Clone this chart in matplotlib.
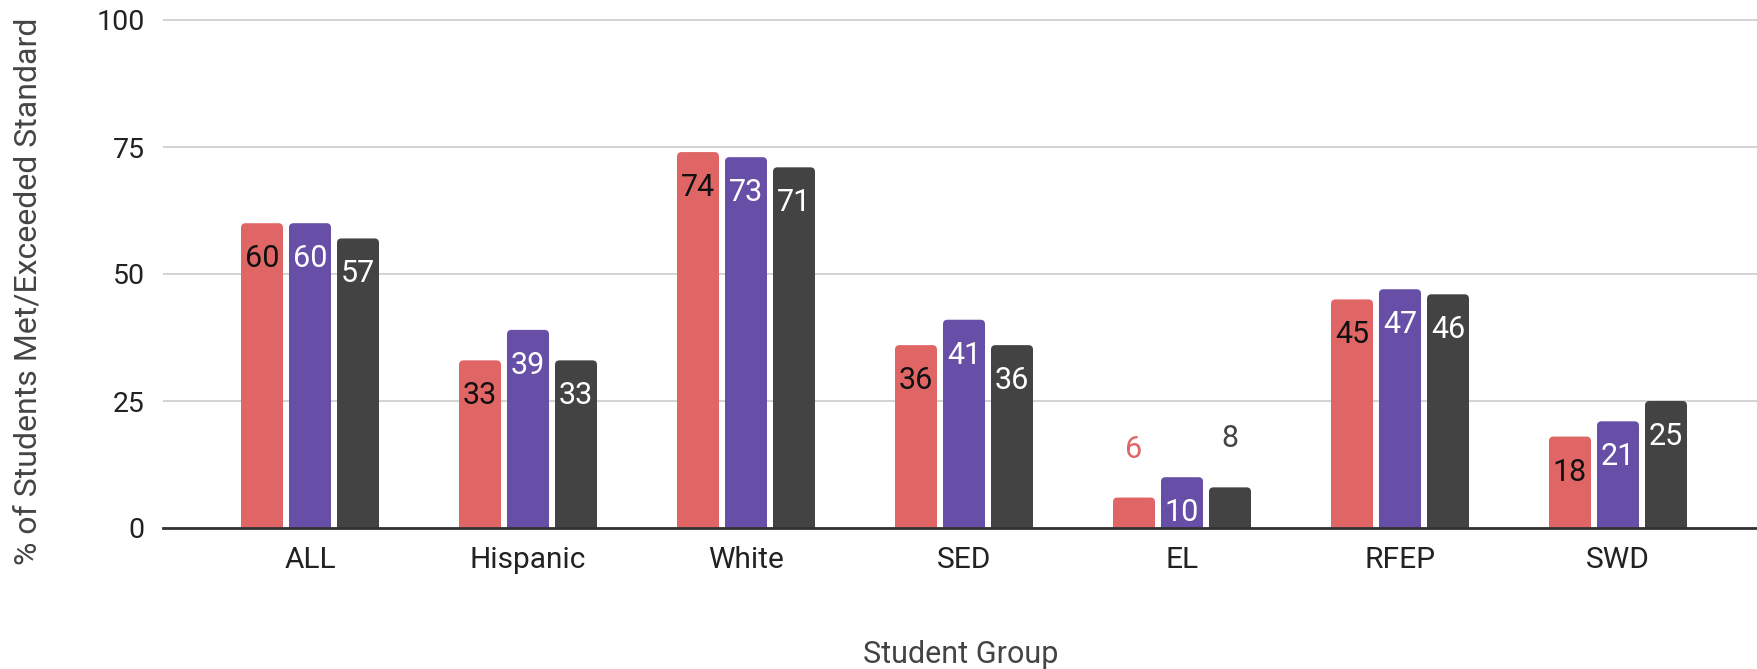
import matplotlib
matplotlib.use("Agg")
import matplotlib.pyplot as plt
from matplotlib.patches import FancyBboxPatch

# ---- data ----
groups = ["ALL", "Hispanic", "White", "SED", "EL", "RFEP", "SWD"]
series_1 = [60, 33, 74, 36, 6, 45, 18]
series_2 = [60, 39, 73, 41, 10, 47, 21]
series_3 = [57, 33, 71, 36, 8, 46, 25]
y_ticks = [0, 25, 50, 75, 100]
y_title = "% of Students Met/Exceeded Standard"
x_title = "Student Group"

colors = ["#e06666", "#674ea7", "#434343"]
inside_text = ["#111111", "#ffffff", "#ffffff"]

plt.rcParams['font.family'] = ['Roboto', 'DejaVu Sans']

W, H = 1758, 669
fig = plt.figure(figsize=(W / 100, H / 100), dpi=100)
ax_left, ax_right, ax_top, ax_bot = 163, 1758, 17, 528
ax = fig.add_axes([ax_left / W, 1 - ax_bot / H, (ax_right - ax_left) / W, (ax_bot - ax_top) / H])

spacing = 218.0
px_per_unit_y = 508 / 100
ax.set_xlim((ax_left - 310) / spacing, (ax_right - 310) / spacing)
ax.set_ylim(0, 100 + (20 - ax_top) / px_per_unit_y)

bw = 42 / spacing
off = 48 / spacing
xs = list(range(len(groups)))

r_x = 4.5 / spacing
r_y = 4.5 / px_per_unit_y
m_aspect = r_y / r_x

all_series = [series_1, series_2, series_3]
for si, vals in enumerate(all_series):
    pos = [x + (si - 1) * off for x in xs]
    bars = ax.bar(pos, vals, width=bw, color=colors[si], zorder=3)
    for rect, v in zip(bars, vals):
        rect.set_visible(False)
        fb = FancyBboxPatch((rect.get_x(), -3), rect.get_width(), rect.get_height() + 3,
                            boxstyle=f"round,pad=0,rounding_size={r_x}",
                            mutation_aspect=m_aspect,
                            facecolor=colors[si], edgecolor='none', zorder=3)
        ax.add_patch(fb)
        cx = rect.get_x() + rect.get_width() / 2
        if v >= 10:
            ax.annotate(f"{v}", (cx, v), xytext=(0, -44), textcoords='offset pixels',
                        ha='center', va='baseline', fontsize=22, color=inside_text[si], zorder=5)
        else:
            ax.annotate(f"{v}", (cx, v), xytext=(0, 40), textcoords='offset pixels',
                        ha='center', va='baseline', fontsize=22, color=colors[si], zorder=5)

ax.set_yticks(y_ticks)
ax.set_xticks(xs)
ax.set_xticklabels(groups)
ax.tick_params(axis='both', length=0, colors='#222222')
ax.tick_params(axis='y', labelsize=20.5, pad=13)
ax.tick_params(axis='x', labelsize=21.5, pad=13)
ax.grid(axis='y', color='#cccccc', linewidth=1.2, zorder=0)
ax.set_axisbelow(True)
for s in ax.spines.values():
    s.set_visible(False)
ax.axhline(0, color='#333333', linewidth=2.0, zorder=4, clip_on=False)

fig.text(961 / W, 1 - 663 / H, x_title, ha='center', va='baseline', fontsize=22, color='#444444')
fig.text(28 / W, 1 - 291 / H, y_title, ha='center', va='center', rotation=90, fontsize=23, color='#444444')

fig.savefig("out.png", dpi=100, facecolor='white')
